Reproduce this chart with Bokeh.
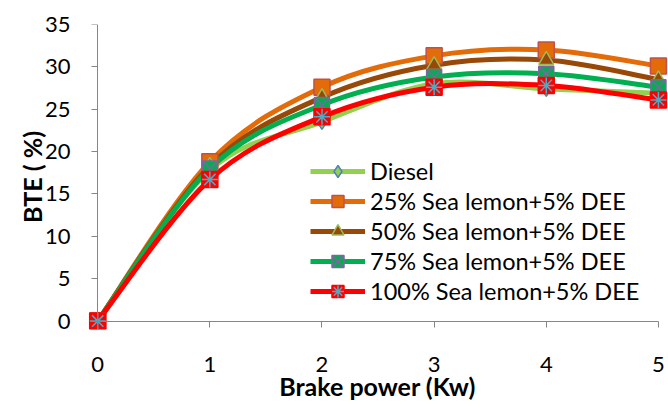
import numpy as np
from bokeh.plotting import figure
from bokeh.models import Range1d, FixedTicker, Legend, LegendItem, LinearAxis
from bokeh.embed import file_html
from bokeh.resources import INLINE

# ---- data ----
power = [0, 1, 2, 3, 4, 5]
diesel = [0, 17.8, 23.5, 28.0, 27.4, 26.9]
sl25 = [0, 18.8, 27.6, 31.3, 32.0, 30.1]
sl50 = [0, 18.3, 26.4, 30.2, 30.8, 28.5]
sl75 = [0, 18.0, 25.5, 28.8, 29.2, 27.6]
sl100 = [0, 16.7, 24.1, 27.6, 27.8, 26.1]
series_names = ["Diesel", "25% Sea lemon+5% DEE", "50% Sea lemon+5% DEE",
                "75% Sea lemon+5% DEE", "100% Sea lemon+5% DEE"]
x_ticks = [0, 1, 2, 3, 4, 5]
y_ticks = [0, 5, 10, 15, 20, 25, 30, 35]

FONT = "Lato"

# ranges padded a little so the end markers are not clipped; axis lines sit at 0
p = figure(width=668, height=409, output_backend="svg", toolbar_location=None,
           x_range=Range1d(-0.1, 5.09), y_range=Range1d(-1, 35),
           min_border_left=86, min_border_right=0, min_border_top=24, min_border_bottom=80)
p.background_fill_color = "white"
p.border_fill_color = "white"
p.outline_line_color = None
p.xgrid.visible = False
p.ygrid.visible = False

# axis lines + tick marks (at data 0)
for ax in (p.xaxis[0], p.yaxis[0]):
    ax.axis_line_color = "#868686"
    ax.axis_line_width = 1
    ax.major_tick_line_color = "#868686"
    ax.major_tick_in = 0
    ax.major_tick_out = 6
    ax.minor_tick_line_color = None
    ax.major_label_text_alpha = 0
    ax.axis_label = None

p.xaxis[0].ticker = FixedTicker(ticks=x_ticks)
p.yaxis[0].ticker = FixedTicker(ticks=y_ticks)
p.xaxis[0].bounds = (0, 5)
p.yaxis[0].bounds = (0, 35)
p.xaxis[0].fixed_location = 0
p.yaxis[0].fixed_location = 0

# label-only axes at the frame edges
xlab = LinearAxis(ticker=FixedTicker(ticks=x_ticks), axis_label="Brake power (Kw)")
ylab = LinearAxis(ticker=FixedTicker(ticks=y_ticks), axis_label="BTE ( %)")
for ax in (xlab, ylab):
    ax.axis_line_color = None
    ax.major_tick_line_color = None
    ax.minor_tick_line_color = None
    ax.major_tick_in = 0
    ax.major_tick_out = 0
    ax.major_label_text_font = FONT
    ax.major_label_text_font_size = "22px"
    ax.major_label_text_color = "black"
    ax.axis_label_text_font = FONT
    ax.axis_label_text_font_style = "bold"
    ax.axis_label_text_font_size = "25px"
    ax.axis_label_text_color = "black"
xlab.major_label_standoff = 27
xlab.axis_label_standoff = -4
ylab.major_label_standoff = 16
ylab.axis_label_standoff = -5
p.add_layout(xlab, "below")
p.add_layout(ylab, "left")


def smooth_segments(x, y):
    P = np.column_stack([x, y]).astype(float)
    n = len(P)
    out = {k: [] for k in ("x0", "y0", "x1", "y1", "cx0", "cy0", "cx1", "cy1")}
    for i in range(n - 1):
        pm, p0, p1, p2 = P[max(i - 1, 0)], P[i], P[i + 1], P[min(i + 2, n - 1)]
        c0 = p0 + (p1 - pm) / 6.0
        c1 = p1 - (p2 - p0) / 6.0
        out["x0"].append(p0[0]); out["y0"].append(p0[1])
        out["x1"].append(p1[0]); out["y1"].append(p1[1])
        out["cx0"].append(c0[0]); out["cy0"].append(c0[1])
        out["cx1"].append(c1[0]); out["cy1"].append(c1[1])
    return out


values = [diesel, sl25, sl50, sl75, sl100]
line_colors = ["#92D050", "#E36C09", "#984807", "#00B050", "#FF0000"]
fill_colors = ["#92D050", "#E36C09", "#984807", "#00B050", "#FF0000"]
edge_colors = ["#4F81BD", "#C0504D", "#9BBB59", "#8064A2", "#FF0000"]
markers = ["diamond", "square", "triangle", "square_x", "square"]
sizes = [15, 16, 15, 15, 16]

line_rs = []
for vals, lc in zip(values, line_colors):
    seg = smooth_segments(power, vals)
    r = p.bezier(x0=seg["x0"], y0=seg["y0"], x1=seg["x1"], y1=seg["y1"],
                 cx0=seg["cx0"], cy0=seg["cy0"], cx1=seg["cx1"], cy1=seg["cy1"],
                 line_color=lc, line_width=5)
    line_rs.append(r)

marker_rs = []
for i, vals in enumerate(values):
    r = p.scatter(power, vals, marker=markers[i], size=sizes[i],
                  fill_color=fill_colors[i], line_color=edge_colors[i], line_width=1.5)
    rs = [r]
    if i == 4:
        r2 = p.scatter(power, vals, marker="asterisk", size=16,
                       line_color="#4BACC6", line_width=1.5)
        rs.append(r2)
    marker_rs.append(rs)

items = [LegendItem(label=series_names[i], renderers=[line_rs[i]] + marker_rs[i])
         for i in range(5)]
legend = Legend(items=items, location=(224, 23))
legend.label_text_font = FONT
legend.label_text_font_size = "23.5px"
legend.label_text_color = "black"
legend.glyph_width = 55
legend.glyph_height = 30
legend.label_height = 20
legend.spacing = 0
legend.label_standoff = 5
legend.padding = 0
legend.margin = 0
legend.border_line_color = None
legend.background_fill_alpha = 0
p.add_layout(legend, "center")

open("out.html", "w").write(file_html(p, INLINE))
